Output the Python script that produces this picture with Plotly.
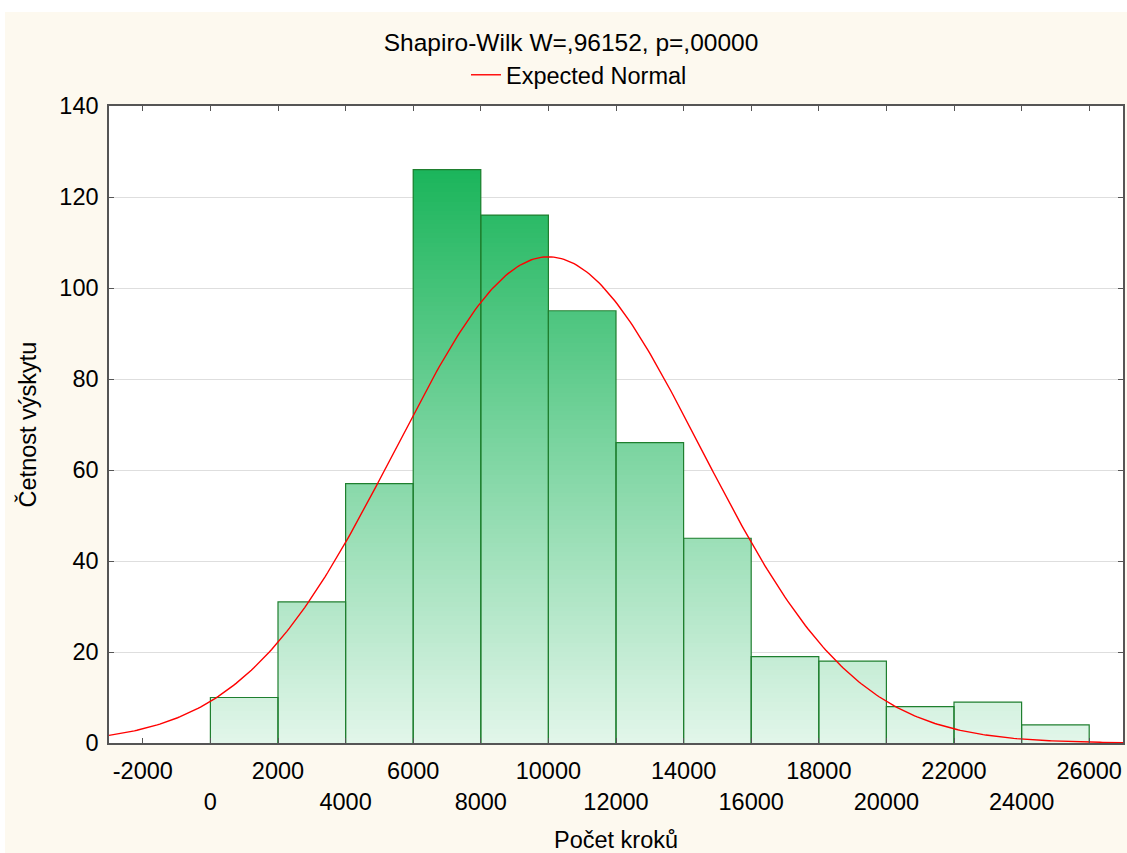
import numpy as np
import plotly.graph_objects as go

# ---- data ----
bin_left = [0, 2000, 4000, 6000, 8000, 10000, 12000, 14000, 16000, 18000, 20000, 22000, 24000]
counts = [10, 31, 57, 126, 116, 95, 66, 45, 19, 18, 8, 9, 4]
bin_width = 2000
normal_mean = 10000
normal_sd = 4510
x_tick_vals = list(range(-2000, 26001, 2000))
y_tick_vals = list(range(0, 141, 20))

title_text = "Shapiro-Wilk W=,96152, p=,00000"
x_title = "Počet kroků"
y_title = "Četnost výskytu"

FONT = "Liberation Sans, Arial, sans-serif"
FS = 23.5

# gradient colours (by absolute count level)
c_low = np.array([226, 246, 234])
c_high = np.array([27, 181, 91])
v_high = 126.0


def level_color(v):
    t = min(max(v / v_high, 0.0), 1.0)
    c = c_low + (c_high - c_low) * t
    return "rgb(%d,%d,%d)" % tuple(int(round(a)) for a in c)


centers = [b + bin_width / 2 for b in bin_left]

seg_x, seg_base, seg_h, seg_col = [], [], [], []
step = 1.0
for cx, cnt in zip(centers, counts):
    k = 0.0
    while k < cnt:
        h = min(step, cnt - k)
        seg_x.append(cx)
        seg_base.append(k)
        seg_h.append(h)
        seg_col.append(level_color(k + h / 2))
        k += step

fig = go.Figure()
fig.add_trace(go.Bar(
    x=seg_x, y=seg_h, base=seg_base, width=bin_width,
    marker=dict(color=seg_col, line=dict(width=0)),
    showlegend=False, hoverinfo="skip",
))

# bar outlines (sides and top, no bottom edge)
ox, oy = [], []
for b, cnt in zip(bin_left, counts):
    ox += [b, b, b + bin_width, b + bin_width, None]
    oy += [0, cnt, cnt, 0, None]
fig.add_trace(go.Scatter(
    x=ox, y=oy, mode="lines", line=dict(color="#1f7f2f", width=1.2),
    showlegend=False, hoverinfo="skip",
))

xs = np.linspace(-3000, 27000, 400)
pdf = sum(counts) * bin_width / (normal_sd * np.sqrt(2 * np.pi)) * np.exp(-0.5 * ((xs - normal_mean) / normal_sd) ** 2)
fig.add_trace(go.Scatter(
    x=xs, y=pdf, mode="lines", line=dict(color="#ff0000", width=1.4),
    name="Expected Normal",
))

ticktext = []
for v in x_tick_vals:
    if (v // 2000) % 2 == 0:
        ticktext.append("<br>" + str(v))
    else:
        ticktext.append(str(v))

axis_line = "#555555"
fig.update_layout(
    width=1127, height=853,
    margin=dict(l=109, r=4, t=106, b=110, autoexpand=False),
    paper_bgcolor="#fdf9ef",
    plot_bgcolor="#ffffff",
    barmode="overlay",
    bargap=0,
    font=dict(family=FONT, size=FS, color="#000000"),
    title=dict(text=title_text, x=571 / 1127, xref="container", xanchor="center",
               y=1 - 42 / 853, yref="container", yanchor="middle",
               font=dict(family=FONT, size=24.5, color="#000000")),
    legend=dict(orientation="h", x=(466 - 109) / 1014, xanchor="left",
                y=1 + (106 - 75) / 637, yanchor="middle",
                bgcolor="rgba(0,0,0,0)", font=dict(family=FONT, size=FS)),
    xaxis=dict(
        range=[-3000, 27000], tickvals=x_tick_vals, ticktext=ticktext,
        ticks="inside", ticklen=5, tickcolor=axis_line, tickwidth=1,
        showline=True, linecolor=axis_line, linewidth=1.5, mirror="allticks",
        showgrid=False, zeroline=False, automargin=False, layer="above traces",
        ticklabelstandoff=6,
        title=dict(text=x_title, standoff=20, font=dict(family=FONT, size=FS)),
        tickfont=dict(family=FONT, size=FS),
    ),
    yaxis=dict(
        range=[0, 140], tickvals=y_tick_vals,
        ticks="inside", ticklen=5, tickcolor=axis_line, tickwidth=1,
        showline=True, linecolor=axis_line, linewidth=1.5, mirror="allticks",
        showgrid=True, gridcolor="#dedede", gridwidth=1.2, zeroline=False,
        automargin=False, ticklabelstandoff=4, layer="above traces",
        title=dict(text=y_title, standoff=16, font=dict(family=FONT, size=FS)),
        tickfont=dict(family=FONT, size=FS),
    ),
    shapes=[
        dict(type="rect", xref="paper", yref="paper", x0=-0.2, x1=(5 - 109) / 1014,
             y0=-0.3, y1=1.3, fillcolor="#ffffff", line=dict(width=0), layer="below"),
        dict(type="rect", xref="paper", yref="paper", x0=-0.2, x1=1.2,
             y0=1 + (106 - 12) / 637, y1=1.3, fillcolor="#ffffff", line=dict(width=0), layer="below"),
    ],
)

fig.write_html("out.html", config={"displayModeBar": False},
               post_script="document.body.style.margin='0';document.body.style.overflow='hidden';")
